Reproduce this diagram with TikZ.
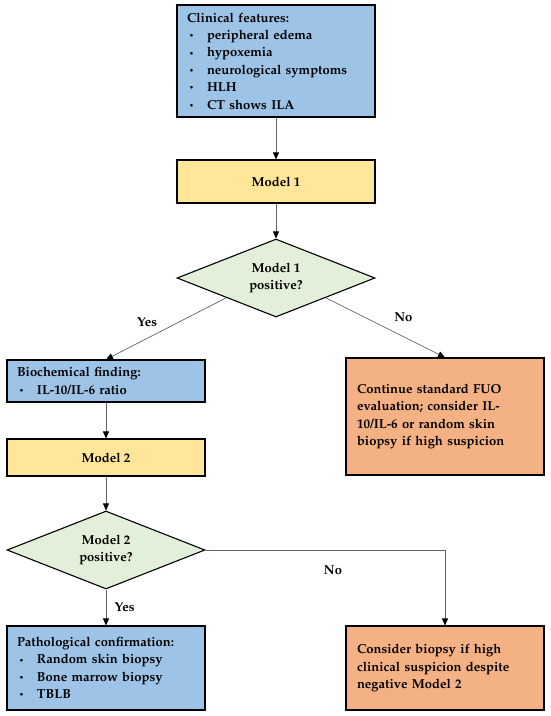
\documentclass[tikz,border=0pt]{standalone}
\usepackage[T1]{fontenc}
\usepackage{mathpazo}
\usepackage{tikz}
\usetikzlibrary{arrows.meta, shapes.geometric, positioning}

\definecolor{boxblue}{RGB}{157,195,230}
\definecolor{boxyellow}{RGB}{255,230,153}
\definecolor{boxgreen}{RGB}{226,240,217}
\definecolor{boxorange}{RGB}{244,177,131}
\definecolor{linegray}{RGB}{100,100,100}

\newcommand{\bul}{\makebox[20pt][l]{\hspace{2pt}\raisebox{0.15ex}{\footnotesize\textbullet}}}

\begin{document}
\begin{tikzpicture}[x=1pt, y=-1pt,
  font=\fontsize{13}{17.4}\selectfont\bfseries,
  box/.style={draw=black, line width=1.1pt, minimum width=198pt, inner sep=0pt},
  listbox/.style={box, fill=boxblue, text width=178pt, align=left},
  modelbox/.style={box, fill=boxyellow, align=center},
  askbox/.style={draw=black, line width=1.1pt, fill=boxgreen, diamond, aspect=2.6,
    minimum width=198pt, minimum height=78pt, inner sep=0pt, align=center},
  notebox/.style={box, fill=boxorange, text width=176pt, align=left},
  arr/.style={draw=linegray, line width=0.7pt,
    -{Triangle[length=7pt, width=6pt, color=black]}}]
  \useasboundingbox (0,0) rectangle (550,716);

  % left / centre column
  \node[listbox, minimum height=112pt] (feat) at (276,61) {Clinical features:\\
    \bul peripheral edema\\
    \bul hypoxemia\\
    \bul neurological symptoms\\
    \bul HLH\\
    \bul CT shows ILA};
  \node[modelbox, minimum height=43pt] (mod1) at (276,181.5) {Model 1};
  \node[askbox] (ask1) at (276,278) {Model 1\\positive?};

  \node[listbox, minimum height=42pt] (bio) at (106,381) {Biochemical finding:\\
    \bul IL-10/IL-6 ratio};
  \node[modelbox, minimum height=37pt] (mod2) at (106,457.5) {Model 2};
  \node[askbox] (ask2) at (106,550) {Model 2\\positive?};
  \node[listbox, minimum height=84pt] (path) at (106,668) {Pathological confirmation:\\
    \bul Random skin biopsy\\
    \bul Bone marrow biopsy\\
    \bul TBLB};

  % right column
  \node[notebox, minimum height=117pt] (cont) at (445,416.5) {Continue standard FUO\\
    evaluation; consider IL-\\10/IL-6 or random skin\\biopsy if high suspicion};
  \node[notebox, minimum height=84pt] (cons) at (445,668) {Consider biopsy if high\\
    clinical suspicion despite\\negative Model 2};

  % connectors
  \draw[arr] (feat) -- (mod1);
  \draw[arr] (mod1) -- (ask1);
  \draw[arr] (ask1.south west) -- node[xshift=-19pt, yshift=7pt] {Yes} (bio.north);
  \draw[arr] (ask1.south east) -- node[xshift=18pt, yshift=10pt] {No} (cont.north);
  \draw[arr] (bio) -- (mod2);
  \draw[arr] (mod2) -- (ask2);
  \draw[arr] (ask2) -- node[right=5pt] {Yes} (path);
  \draw[arr] (ask2.east) -| (cons.north);
  \node (no2) at (333,570) {No};
\end{tikzpicture}
\end{document}
